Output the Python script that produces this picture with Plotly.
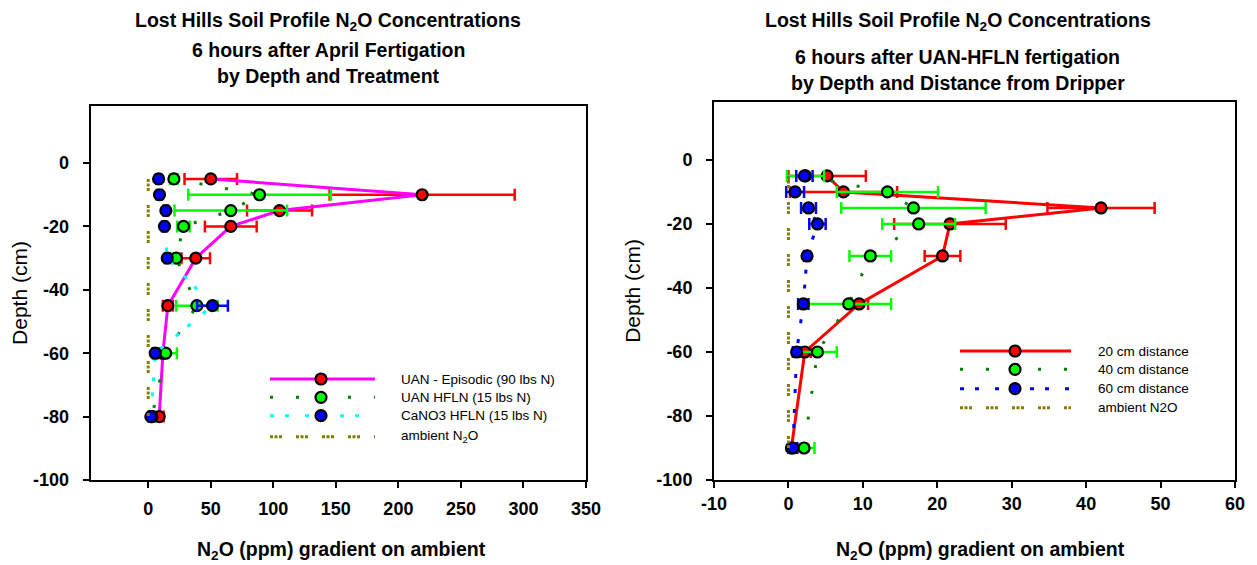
import plotly.graph_objects as go

# ---------------- data: left panel (by treatment) ----------------
depth_left = [-5, -10, -15, -20, -30, -45, -60, -80]
uan_episodic = [50, 219, 105, 66, 38, 15.7, 11.7, 8.8]
uan_episodic_err = [21, 74, 26, 20.7, 11.4, 4, 2, 3.5]
uan_hfln = [20.5, 89, 66, 28.2, 22.4, 38.9, 13.9, 3]
uan_hfln_err = [3, 57, 45, 5, 3, 16.5, 9, 2]
cano3_hfln = [8.3, 9, 14.1, 13, 15.2, 51.4, 5.6, 2.1]
cano3_hfln_err = [2, 2, 2, 2, 2, 12.3, 2, 2]
ambient_left = [0, 0, 0, 0, 0, 0, 0, 0]

# ---------------- data: right panel (by distance) ----------------
depth_right = [-5, -10, -15, -20, -30, -45, -60, -90]
dist20 = [5.2, 7.4, 42, 21.7, 20.7, 9.5, 2.2, 0.4]
dist20_err = [5.2, 7.2, 7.2, 7.5, 2.4, 1.2, 0.8, 0.4]
dist40 = [2.3, 13.3, 16.8, 17.5, 11.0, 8.1, 3.9, 2.1]
dist40_err = [2.5, 6.8, 9.7, 4.9, 2.8, 5.7, 2.6, 1.4]
dist60 = [2.15, 0.9, 2.7, 3.9, 2.5, 2.0, 1.1, 0.6]
dist60_err = [1.1, 1.2, 1.0, 1.1, 0.4, 0.7, 0.5, 0.6]
ambient_right = [0, 0, 0, 0, 0, 0, 0, 0]

left_xticks = [0, 50, 100, 150, 200, 250, 300, 350]
left_xlabels = ["0", "50", "100", "150", "200", "250", "300", "350"]
right_xticks = [-10, 0, 10, 20, 30, 40, 50, 60]
right_xlabels = ["-10", "0", "10", "20", "30", "40", "50", "60"]
yticks = [-100, -80, -60, -40, -20, 0]
ylabels = ["-100", "-80", "-60", "-40", "-20", "0"]

left_names = ["UAN - Episodic (90 lbs N)", "UAN HFLN (15 lbs N)",
              "CaNO3 HFLN (15 lbs N)", "ambient N<sub>2</sub>O"]
right_names = ["20 cm distance", "40 cm distance", "60 cm distance", "ambient N2O"]

# ---------------- styles ----------------
FONT = "Liberation Sans, Arial, sans-serif"
OFF = 8                      # page body margin in the browser
W, H = 1257 - OFF, 565 - OFF
RED, MAG, GRN, DGRN, BLUE, CYAN, OLIVE = "#FF0000", "#FF00FF", "#00FF00", "#008000", "#0000FF", "#00FFFF", "#808000"
AMB_DASH = "3px,1.5px,3px,1.5px,3px,14px"
DG_DASH = "3px,23px"
CY_DASH = "4px,11px,4px,16px"


def marker(fill):
    return dict(symbol="circle", size=11, color=fill, line=dict(color="black", width=2.2))


def err(arr, color):
    return dict(type="data", array=arr, color=color, thickness=2.5, width=6, visible=True)


fig = go.Figure()

# left panel
fig.add_trace(go.Scatter(x=uan_episodic, y=depth_left, mode="lines+markers", name=left_names[0],
                         line=dict(color=MAG, width=3), marker=marker(RED),
                         error_x=err(uan_episodic_err, RED), xaxis="x", yaxis="y"))
fig.add_trace(go.Scatter(x=uan_hfln, y=depth_left, mode="lines+markers", name=left_names[1],
                         line=dict(color=DGRN, width=3, dash=DG_DASH), marker=marker(GRN),
                         error_x=err(uan_hfln_err, GRN), xaxis="x", yaxis="y"))
fig.add_trace(go.Scatter(x=cano3_hfln, y=depth_left, mode="lines+markers", name=left_names[2],
                         line=dict(color=CYAN, width=3, dash=CY_DASH), marker=marker(BLUE),
                         error_x=err(cano3_hfln_err, BLUE), xaxis="x", yaxis="y"))
fig.add_trace(go.Scatter(x=ambient_left, y=depth_left, mode="lines", name=left_names[3],
                         line=dict(color=OLIVE, width=3, dash=AMB_DASH), xaxis="x", yaxis="y"))

# right panel
fig.add_trace(go.Scatter(x=dist20, y=depth_right, mode="lines+markers", name=right_names[0],
                         line=dict(color=RED, width=3), marker=marker(RED),
                         error_x=err(dist20_err, RED), xaxis="x2", yaxis="y2"))
fig.add_trace(go.Scatter(x=dist40, y=depth_right, mode="lines+markers", name=right_names[1],
                         line=dict(color=DGRN, width=3, dash=DG_DASH), marker=marker(GRN),
                         error_x=err(dist40_err, GRN), xaxis="x2", yaxis="y2"))
fig.add_trace(go.Scatter(x=dist60, y=depth_right, mode="lines+markers", name=right_names[2],
                         line=dict(color=BLUE, width=3, dash=CY_DASH), marker=marker(BLUE),
                         error_x=err(dist60_err, BLUE), xaxis="x2", yaxis="y2"))
fig.add_trace(go.Scatter(x=ambient_right, y=depth_right, mode="lines", name=right_names[3],
                         line=dict(color=OLIVE, width=3, dash=AMB_DASH), xaxis="x2", yaxis="y2"))


def px(x):
    return (x - OFF) / W


def py(y):
    return (H - (y - OFF)) / H


axis_common = dict(showline=True, linecolor="black", linewidth=2, mirror=True, ticks="outside",
                   ticklen=6, tickwidth=2, tickcolor="black", showgrid=False, zeroline=False,
                   automargin=False,
                   tickfont=dict(family=FONT, size=18, color="black", weight="bold"))
ytitle = dict(text="Depth (cm)", font=dict(family=FONT, size=21, color="black"), standoff=10)

fig.update_layout(
    template="none",
    width=W, height=H, margin=dict(l=0, r=0, t=0, b=0, pad=0, autoexpand=False),
    paper_bgcolor="white", plot_bgcolor="white", showlegend=False,
    font=dict(family=FONT, color="black"),
    xaxis=dict(domain=[px(90.7), px(586)], range=[-46, 350], tickvals=left_xticks, ticktext=left_xlabels,
               anchor="y", ticklabelstandoff=5, **axis_common),
    yaxis=dict(domain=[py(480), py(106)], range=[-100, 18], tickvals=yticks, ticktext=ylabels, anchor="x",
               ticklabelstandoff=10, title=ytitle, **axis_common),
    xaxis2=dict(domain=[px(714), px(1235)], range=[-10, 60], tickvals=right_xticks, ticktext=right_xlabels,
                anchor="y2", ticklabelstandoff=0, **axis_common),
    yaxis2=dict(domain=[py(480), py(101.7)], range=[-100, 18.2], tickvals=yticks, ticktext=ylabels, anchor="x2",
                ticklabelstandoff=10, title=ytitle, **axis_common),
)

annotations = []
shapes = []

# titles
TITLE_FONT = dict(family=FONT, size=19.5, color="black", weight="bold")
for cx, lines in [(328, [("Lost Hills Soil Profile N<sub>2</sub>O Concentrations", 21),
                         ("6 hours after April Fertigation", 50),
                         ("by Depth and Treatment", 76)]),
                  (958, [("Lost Hills Soil Profile N<sub>2</sub>O Concentrations", 21),
                         ("6 hours after UAN-HFLN fertigation", 57),
                         ("by Depth and Distance from Dripper", 83)])]:
    for txt, yy in lines:
        annotations.append(dict(text=txt, x=px(cx), y=py(yy), xref="paper", yref="paper",
                                xanchor="center", yanchor="middle", showarrow=False, font=TITLE_FONT))

# x-axis titles
for cx in [342, 980]:
    annotations.append(dict(text="N<sub>2</sub>O (ppm) gradient on ambient", x=px(cx), y=py(550),
                            xref="paper", yref="paper", xanchor="center", yanchor="middle",
                            showarrow=False, font=dict(family=FONT, size=19.5, color="black", weight="bold")))


# manual legends
def legend(x0, x1, xm, xt, rows, names, styles):
    for (yy, name, st) in zip(rows, names, styles):
        color, dash, fill = st
        shapes.append(dict(type="line", xref="paper", yref="paper", x0=px(x0), x1=px(x1),
                           y0=py(yy), y1=py(yy), line=dict(color=color, width=3, dash=dash)))
        if fill:
            shapes.append(dict(type="circle", xref="paper", yref="paper", xsizemode="pixel",
                               ysizemode="pixel", xanchor=px(xm), yanchor=py(yy),
                               x0=-5.5, x1=5.5, y0=-5.5, y1=5.5, fillcolor=fill,
                               line=dict(color="black", width=2.2)))
        annotations.append(dict(text=name, x=px(xt), y=py(yy), xref="paper", yref="paper",
                                xanchor="left", yanchor="middle", showarrow=False,
                                font=dict(family=FONT, size=13.5, color="black")))


legend(270, 375, 321, 399, [379, 397.3, 415.7, 436.7], left_names,
       [(MAG, "solid", RED), (DGRN, DG_DASH, GRN), (CYAN, CY_DASH, BLUE), (OLIVE, AMB_DASH, None)])
legend(960, 1071, 1015, 1096, [351, 369.3, 388.7, 407.7], right_names,
       [(RED, "solid", RED), (DGRN, DG_DASH, GRN), (BLUE, CY_DASH, BLUE), (OLIVE, AMB_DASH, None)])

fig.update_layout(annotations=annotations, shapes=shapes)
fig.write_html("out.html")
